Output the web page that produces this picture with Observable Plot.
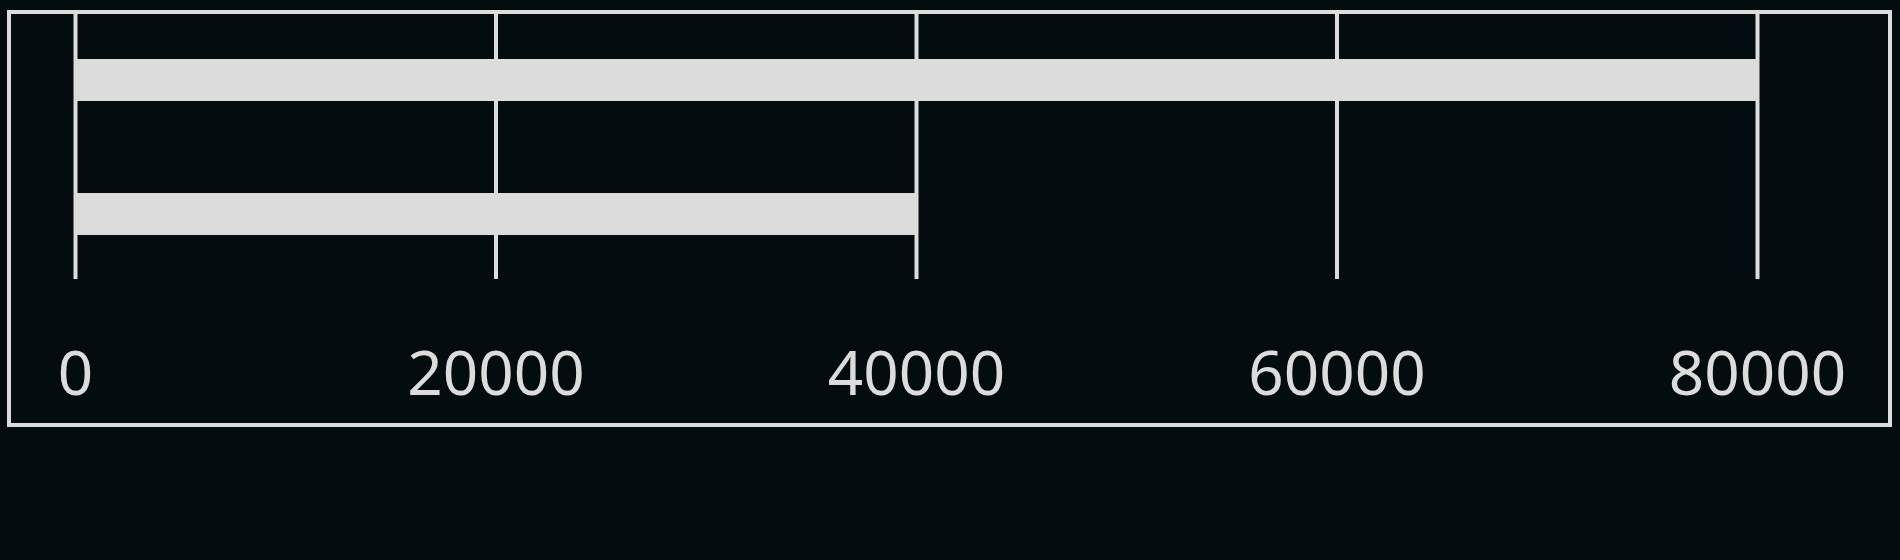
<!DOCTYPE html>
<html>
<head>
<meta charset="utf-8">
<script src="https://cdn.jsdelivr.net/npm/d3@7"></script>
<script src="https://cdn.jsdelivr.net/npm/@observablehq/plot@0.6"></script>
<style>
  html, body { margin: 0; padding: 0; background: #030c0f; width: 1900px; height: 560px; overflow: hidden; }
  #chart { position: absolute; left: 7px; top: 10px; border: 4px solid #dcdcdc; line-height: 0; }
  #chart svg { display: block; }
</style>
</head>
<body>
<div id="chart"></div>
<script>
const categories = ["A", "B"];
const values = [80000, 40000];
const tickValues = [0, 20000, 40000, 60000, 80000];

const data = categories.map((c, i) => ({category: c, value: values[i]}));

const plot = Plot.plot({
  width: 1877,
  height: 409,
  marginTop: 0,
  marginBottom: 144,
  marginLeft: 64,
  marginRight: 131,
  style: {background: "#030c0f", color: "#dcdcdc", fontFamily: "'Noto Sans', sans-serif", fontSize: "62px"},
  x: {domain: [0, 80000], ticks: tickValues, tickFormat: d => String(d), label: null},
  y: {domain: categories, paddingInner: 0.69, paddingOuter: 0.33, axis: null},
  marks: [
    Plot.barX(data, {x: "value", y: "category", fill: "#dcdcdc"}),
    Plot.ruleX(tickValues, {stroke: "#dcdcdc", strokeWidth: 4}),
    Plot.axisX({ticks: tickValues, tickSize: 0, tickPadding: 71, fontSize: 62, fill: "#dcdcdc", tickFormat: d => String(d), label: null})
  ]
});
document.getElementById("chart").appendChild(plot);
</script>
</body>
</html>
